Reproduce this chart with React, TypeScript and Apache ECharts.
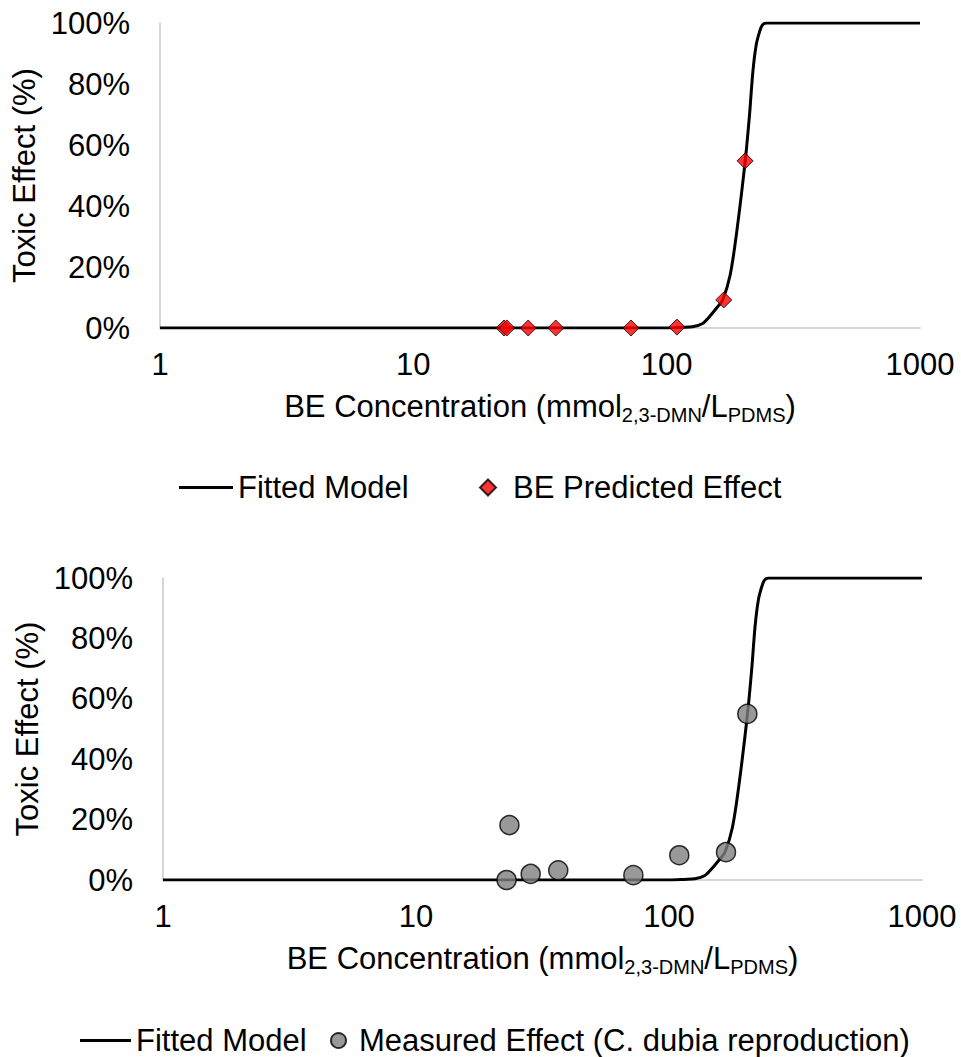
import React, { useEffect, useRef } from "react";
import * as echarts from "echarts";

const FONT = "'Liberation Sans', Arial, Helvetica, sans-serif";
const FS = 31;

// Fitted model curve
const curveX = [1, 50, 100, 115, 126.6, 138.7, 147.5, 159, 166.4, 178.1, 189.1, 204.2, 212.3, 218.9, 225.6, 232.6, 238.4, 247.2, 1000];
const curveY = [0, 0, 0, 0.2, 0.4, 1.5, 3.7, 7.0, 9.2, 17.4, 31.6, 54.8, 69.8, 84.0, 92.8, 97.1, 99.3, 100, 100];

// Concentrations of the test points
const concentrations = [22.8, 23.4, 28.4, 36.5, 72.3, 109.8, 168, 204];
// Top chart: BE predicted effect (%)
const predictedEffect = [0, 0, 0, 0, 0, 0.3, 9.2, 54.8];
// Bottom chart: measured effect (%)
const measuredEffect = [0, 18.2, 2.0, 3.2, 1.6, 8.2, 9.2, 55];

const yTickInterval = 20;
const xMin = 1;
const xMax = 1000;

const pairs = (xs: number[], ys: number[]) => xs.map((x, i) => [x, ys[i]]);

const AXIS_GRAY = "#c9c9c9";

function xAxisDef(gridIndex: number) {
  return {
    type: "log",
    logBase: 10,
    gridIndex,
    min: xMin,
    max: xMax,
    axisLine: { show: true, lineStyle: { color: AXIS_GRAY, width: 1.5 } },
    axisTick: { show: false },
    splitLine: { show: false },
    axisLabel: {
      color: "#000",
      fontSize: FS,
      fontFamily: FONT,
      margin: 21,
      formatter: (v: number) => String(Math.round(v)),
    },
    name: "BE Concentration (mmol{sub|2,3-DMN}/L{sub|PDMS})",
    nameLocation: "middle",
    nameGap: 60,
    nameTextStyle: {
      color: "#000",
      fontSize: FS,
      fontFamily: FONT,
      lineHeight: 37,
      rich: {
        sub: { fontSize: 20, fontFamily: FONT, color: "#000", verticalAlign: "bottom" },
      },
    },
  };
}

function yAxisDef(gridIndex: number) {
  return {
    type: "value",
    gridIndex,
    min: 0,
    max: 100,
    interval: yTickInterval,
    axisLine: { show: true, lineStyle: { color: AXIS_GRAY, width: 1.5 } },
    axisTick: { show: false },
    splitLine: { show: false },
    axisLabel: { color: "#000", fontSize: FS, fontFamily: FONT, margin: 30, formatter: "{value}%" },
    name: "Toxic Effect (%)",
    nameLocation: "middle",
    nameGap: 117,
    nameTextStyle: { color: "#000", fontSize: FS, fontFamily: FONT },
  };
}

export default function App() {
  const ref = useRef<HTMLDivElement>(null);

  useEffect(() => {
    if (!ref.current) return;
    const chart = echarts.init(ref.current, undefined, { renderer: "svg" });
    const legendText = { color: "#000", fontSize: FS, fontFamily: FONT };
    chart.setOption({
      animation: false,
      backgroundColor: "#fff",
      grid: [
        { left: 160, right: 41, top: 23, height: 305 },
        { left: 163, right: 39, top: 578, height: 302 },
      ],
      xAxis: [xAxisDef(0), xAxisDef(1)],
      yAxis: [yAxisDef(0), yAxisDef(1)],
      legend: [
        {
          data: [{ name: "Fitted Model", icon: "rect" }],
          left: 174,
          top: 467,
          itemWidth: 54,
          itemHeight: 3,
          textStyle: legendText,
          selectedMode: false,
        },
        {
          data: [{ name: "BE Predicted Effect", icon: "diamond" }],
          left: 474,
          top: 467,
          itemWidth: 16,
          itemHeight: 16,
          textStyle: { ...legendText, padding: [0, 0, 0, 12] },
          selectedMode: false,
        },
        {
          data: [{ name: "Fitted Model", icon: "rect" }],
          left: 75,
          top: 1020,
          itemWidth: 51,
          itemHeight: 3,
          textStyle: legendText,
          selectedMode: false,
        },
        {
          data: [{ name: "Measured Effect (C. dubia reproduction)", icon: "circle" }],
          left: 325,
          top: 1020,
          itemWidth: 15,
          itemHeight: 15,
          textStyle: { ...legendText, padding: [0, 0, 0, 8] },
          selectedMode: false,
        },
      ],
      series: [
        {
          name: "Fitted Model",
          type: "line",
          xAxisIndex: 0,
          yAxisIndex: 0,
          data: pairs(curveX, curveY),
          symbol: "none",
          smooth: 0.3,
          lineStyle: { color: "#000", width: 3 },
          itemStyle: { color: "#000" },
          z: 2,
        },
        {
          name: "BE Predicted Effect",
          type: "scatter",
          xAxisIndex: 0,
          yAxisIndex: 0,
          data: pairs(concentrations, predictedEffect),
          symbol: "diamond",
          symbolSize: 16,
          itemStyle: { color: "#ff0000", borderColor: "#000", borderWidth: 1 },
          z: 3,
        },
        {
          name: "Fitted Model",
          type: "line",
          xAxisIndex: 1,
          yAxisIndex: 1,
          data: pairs(curveX, curveY),
          symbol: "none",
          smooth: 0.3,
          lineStyle: { color: "#000", width: 3 },
          itemStyle: { color: "#000" },
          z: 2,
        },
        {
          name: "Measured Effect (C. dubia reproduction)",
          type: "scatter",
          xAxisIndex: 1,
          yAxisIndex: 1,
          data: pairs(concentrations, measuredEffect),
          symbol: "circle",
          symbolSize: 19,
          itemStyle: { color: "#808080", borderColor: "#000", borderWidth: 1.5 },
          z: 3,
        },
      ],
    });
    return () => chart.dispose();
  }, []);

  return (
    <div
      ref={ref}
      style={{ position: "fixed", left: 0, top: 0, width: 961, height: 1057, background: "#fff" }}
    />
  );
}
